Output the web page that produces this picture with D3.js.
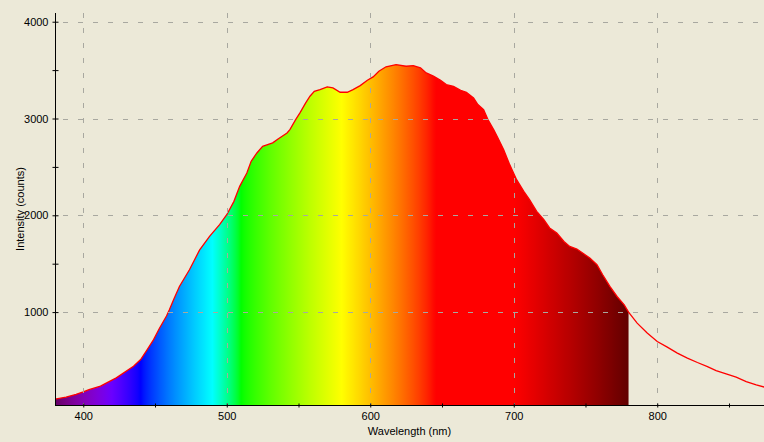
<!DOCTYPE html>
<html><head><meta charset="utf-8">
<script src="https://cdn.jsdelivr.net/npm/d3@7/dist/d3.min.js"></script>
<style>
html,body{margin:0;padding:0;background:#ECE9D8;}
svg{display:block;}
text{font-family:Tahoma,"Liberation Sans",Arial,sans-serif;font-size:11px;fill:#000;}
</style></head>
<body>
<svg id="chart" width="764" height="442"></svg>
<script>
// ---- data ----
const wavelengths = [380,388,395,400,404,412,423,435,440,444,449,453,458,460,463,467,474,481,488,495,500,505,509,514,517,521,525,532,536,542,544,548,551,555,558,561,565,570,574,579,584,588,593,598,602,606,611,618,625,630,635,639,644,649,653,658,663,667,672,675,679,682,686,689,693,697,702,707,711,716,721,725,730,735,739,744,748,753,758,762,767,772,777,780,786,793,800,807,814,821,828,835,841,848,855,862,869,875];
const intensities = [100,121,150,175,198,235,320,440,510,600,715,830,960,1024,1130,1265,1437,1640,1782,1903,2006,2144,2299,2437,2557,2644,2712,2748,2790,2851,2885,2989,3058,3161,3230,3281,3299,3327,3316,3271,3271,3299,3340,3395,3430,3488,3534,3557,3540,3547,3523,3471,3437,3395,3350,3333,3292,3271,3213,3144,3092,2989,2885,2799,2678,2530,2368,2247,2161,2040,1954,1869,1817,1730,1678,1651,1610,1558,1489,1386,1265,1161,1075,1000,886,783,696,638,576,524,479,437,396,362,328,282,248,224];
const xTicks = [400,500,600,700,800];
const xMinorTicks = [450,550,650,750,850];
const yTicks = [1000,2000,3000,4000];
const yMinorTicks = [1500,2500,3500];
const fillRange = [380,780];

const pL = 55, pR = 764, pT = 13, pB = 405;
const x = d3.scaleLinear().domain([380.3, 874.4]).range([pL, pR]);
const y = d3.scaleLinear().domain([40, 4090]).range([pB, pT]);

const svg = d3.select("#chart");
const defs = svg.append("defs");
defs.append("clipPath").attr("id","plot").append("rect")
  .attr("x",pL).attr("y",pT).attr("width",pR-pL).attr("height",pB-pT);

// wavelength to colour (Bruton)
function wl2rgb(w){
  let r=0,g=0,b=0;
  if(w<440){r=-(w-440)/60;b=1;}
  else if(w<490){g=(w-440)/50;b=1;}
  else if(w<510){g=1;b=-(w-510)/20;}
  else if(w<580){r=(w-510)/70;g=1;}
  else if(w<645){r=1;g=-(w-645)/65;}
  else {r=1;}
  let f=1;
  if(w<420) f=0.3+0.7*(w-380)/40;
  else if(w>700) f=0.3+0.7*(780-w)/80;
  const c=v=> v<=0?0:Math.round(255*Math.pow(v*f,0.8));
  return `rgb(${c(r)},${c(g)},${c(b)})`;
}
const grad = defs.append("linearGradient").attr("id","spec")
  .attr("gradientUnits","userSpaceOnUse")
  .attr("x1",x(fillRange[0])).attr("x2",x(fillRange[1])).attr("y1",0).attr("y2",0);
for(let w=fillRange[0]; w<=fillRange[1]; w+=2){
  grad.append("stop").attr("offset",(w-fillRange[0])/(fillRange[1]-fillRange[0]))
    .attr("stop-color",wl2rgb(w));
}

const data = wavelengths.map((w,i)=>({w, v:intensities[i]}));
const fillData = data.filter(d=>d.w>=fillRange[0] && d.w<=fillRange[1]);

const g = svg.append("g").attr("clip-path","url(#plot)");
g.append("path").datum(fillData)
  .attr("fill","url(#spec)")
  .attr("d", d3.area().x(d=>x(d.w)).y0(pB).y1(d=>y(d.v)));

// grid
const grid = svg.append("g").attr("stroke","#a8a8a0").attr("stroke-width",1).attr("stroke-dasharray","5,10");
grid.selectAll("line.v").data(xTicks).join("line").attr("class","v")
  .attr("x1",d=>Math.round(x(d))+0.5).attr("x2",d=>Math.round(x(d))+0.5)
  .attr("y1",pT).attr("y2",pB);
grid.selectAll("line.h").data(yTicks).join("line").attr("class","h")
  .attr("x1",pL+8).attr("x2",pR)
  .attr("y1",d=>Math.round(y(d))+0.5).attr("y2",d=>Math.round(y(d))+0.5);

// red line
g.append("path").datum(data)
  .attr("fill","none").attr("stroke","#ff0000").attr("stroke-width",1.3)
  .attr("d", d3.line().x(d=>x(d.w)).y(d=>y(d.v)));

// axes
const xAxis = svg.append("g").attr("transform",`translate(0,${pB+0.5})`)
  .call(d3.axisBottom(x).tickValues(xTicks).tickSize(2).tickPadding(5).tickFormat(d3.format("d")));
xAxis.select(".domain").attr("d",`M${pL},0H${pR}`).attr("stroke","#000");
xAxis.selectAll(".tick line").attr("y1",-2).attr("stroke","#000");
xAxis.selectAll("text").attr("font-size",11).attr("font-family",null);
const xMinor = svg.append("g").attr("transform",`translate(0,${pB+0.5})`)
  .call(d3.axisBottom(x).tickValues(xMinorTicks).tickSize(2).tickFormat(""));
xMinor.select(".domain").remove();
xMinor.selectAll(".tick line").attr("y1",-2);

const yAxis = svg.append("g").attr("transform",`translate(${pL+0.5},0)`)
  .call(d3.axisLeft(y).tickValues(yTicks).tickSize(3).tickPadding(4).tickFormat(d3.format("d")));
yAxis.select(".domain").attr("d",`M0,${pT}V${pB}`).attr("stroke","#000");
yAxis.selectAll(".tick line").attr("x1",-3).attr("x2",3);
yAxis.selectAll("text").attr("font-size",11).attr("font-family",null);
const yMinor = svg.append("g").attr("transform",`translate(${pL+0.5},0)`)
  .call(d3.axisLeft(y).tickValues(yMinorTicks).tickSize(3).tickFormat(""));
yMinor.select(".domain").remove();
yMinor.selectAll(".tick line").attr("x1",-3).attr("x2",3);

svg.append("text").attr("x",(pL+pR)/2).attr("y",435).attr("text-anchor","middle")
  .text("Wavelength (nm)");
svg.append("text").attr("transform",`translate(24,${(pT+pB)/2}) rotate(-90)`)
  .attr("text-anchor","middle").text("Intensity (counts)");
</script>
</body></html>
